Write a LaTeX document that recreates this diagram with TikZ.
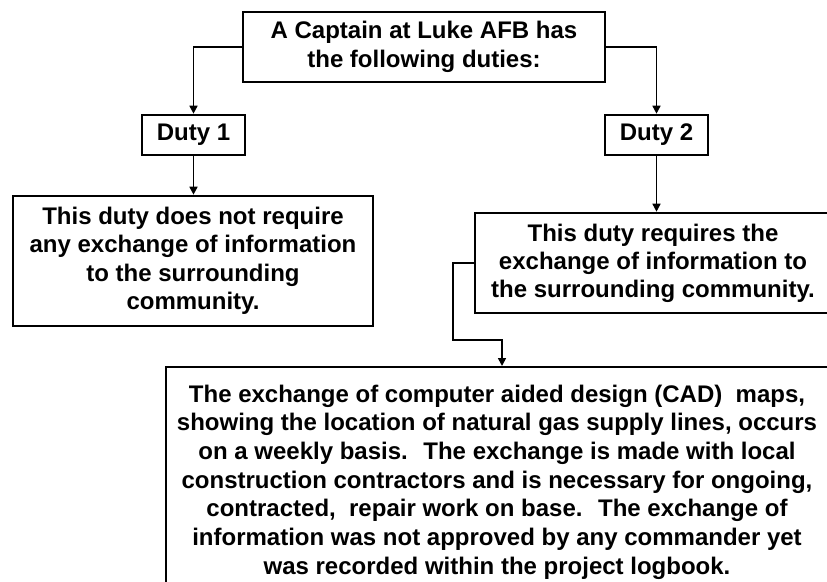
\documentclass[tikz,border=0pt]{standalone}
\usepackage{fontspec}
\setmainfont{Liberation Sans}
\usetikzlibrary{arrows.meta}
\begin{document}
\begin{tikzpicture}[x=1pt,y=-1pt,
  box/.style={draw,line width=2.6pt,rectangle,align=center,inner sep=0pt,
    font=\fontsize{24}{28.5}\selectfont\bfseries},
  conn/.style={line width=1.6pt,-{Triangle[length=8pt,width=8pt]}}]
\useasboundingbox (0,0) rectangle (827,581);
\node[box,minimum width=362,minimum height=70,font=\fontsize{24}{29}\selectfont\bfseries] (top) at (424,47) {A Captain at Luke AFB has\\the following duties:};
\node[box,minimum width=103,minimum height=40] (d1) at (193.5,135) {Duty 1};
\node[box,minimum width=103,minimum height=40] (d2) at (656.5,135) {Duty 2};
\node[box,minimum width=360,minimum height=130,font=\fontsize{24}{28.5}\selectfont\bfseries] (r1) at (193,261) {This duty does not require\\any exchange of information\\to the surrounding\\community.};
\node[box,minimum width=356,minimum height=100,font=\fontsize{24}{28}\selectfont\bfseries] (r2) at (653,263) {This duty requires the\\exchange of information to\\the surrounding community.};
\node[box,minimum width=662,minimum height=230,font=\fontsize{24}{28.7}\selectfont\bfseries] (b) at (497,482) {The exchange of computer aided design (CAD) \ maps,\\showing the location of natural gas supply lines, occurs\\on a weekly basis. \ The exchange is made with local\\construction contractors and is necessary for ongoing,\\contracted, \ repair work on base. \ The exchange of\\information was not approved by any commander yet\\was recorded within the project logbook.};
\coordinate (c1) at (453,340);
\coordinate (c2) at (502,366);
\draw[conn] (top.west) -| (d1.north);
\draw[conn] (top.east) -| (d2.north);
\draw[conn] (d1.south) -- (d1.south |- r1.north);
\draw[conn] (d2.south) -- (d2.south |- r2.north);
\draw[conn] (r2.west) -| (c1) -| (c2);
\end{tikzpicture}
\end{document}
